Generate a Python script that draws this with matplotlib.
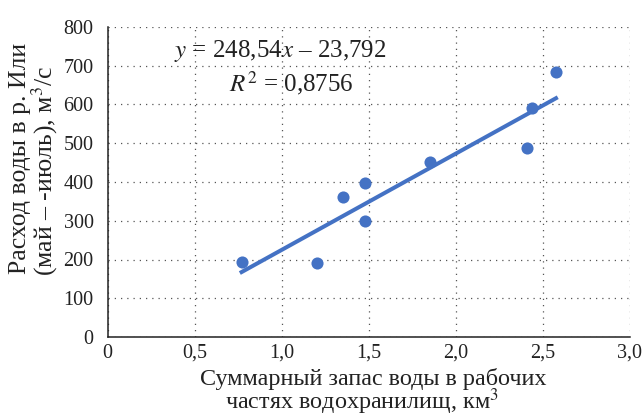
import numpy as np
import matplotlib
matplotlib.use("Agg")
import matplotlib.pyplot as plt

# storage (km3) vs Ili river discharge, May-July (m3/s)
storage = [0.77, 1.20, 1.35, 1.48, 1.48, 1.85, 2.41, 2.44, 2.575]
discharge = [194, 192, 361, 398, 299, 451, 488, 590, 685]

slope = 248.54
intercept = -23.792
r2_text = "0,8756"

xticks = [0, 0.5, 1.0, 1.5, 2.0, 2.5, 3.0]
xtick_labels = ["0", "0,5", "1,0", "1,5", "2,0", "2,5", "3,0"]
yticks = [0, 100, 200, 300, 400, 500, 600, 700, 800]

blue = "#4472C4"
ink = "#222222"
W, H = 643, 417

plt.rcParams['font.family'] = ['Liberation Serif', 'DejaVu Serif']
plt.rcParams['mathtext.fontset'] = 'stix'

fig = plt.figure(figsize=(W / 100, H / 100), dpi=100)
ax = fig.add_axes([107.5 / W, 1 - 337 / H, 522.5 / W, 310 / H])

ax.scatter(storage, discharge, s=76, color=blue, zorder=3, linewidths=0)

xs = np.array([min(storage), max(storage)])
ax.plot(xs, slope * xs + intercept, color=blue, lw=2.9, zorder=2)

ax.set_xlim(0, 3.0)
ax.set_ylim(0, 800)
ax.set_xticks(xticks)
ax.set_xticklabels(xtick_labels)
ax.set_yticks(yticks)
ax.tick_params(length=0, labelsize=14.5, colors=ink)
ax.tick_params(axis='y', pad=10)
ax.tick_params(axis='x', pad=5)

ax.grid(True, color='#555555', linestyle=(0, (1, 4)), lw=0.9)
ax.set_axisbelow(True)
for side in ['top', 'right']:
    ax.spines[side].set_visible(False)
for side in ['left', 'bottom']:
    ax.spines[side].set_linewidth(1.1)
    ax.spines[side].set_color(ink)

# regression equation
fig.text(280 / W, 1 - 57 / H, "$y$ = 248,54$x$ \u2013 23,792",
         fontsize=18, ha='center', va='baseline', color=ink)
fig.text(291 / W, 1 - 91 / H, "$R^2$ = " + r2_text,
         fontsize=18, ha='center', va='baseline', color=ink)

# axis titles
fig.text(373 / W, 1 - 385 / H, "Суммарный запас воды в рабочих",
         ha='center', va='baseline', fontsize=17.4, color=ink)
fig.text(362 / W, 1 - 409 / H, "частях водохранилищ, км$^3$",
         ha='center', va='baseline', fontsize=17.4, color=ink)
fig.text(26 / W, 1 - 158 / H, "Расход воды в р. Или",
         ha='center', va='baseline', rotation=90, rotation_mode='anchor',
         fontsize=18.5, color=ink)
fig.text(52 / W, 1 - 171 / H, "(май \u2013 -июль), м$^3$/с",
         ha='center', va='baseline', rotation=90, rotation_mode='anchor',
         fontsize=18.5, color=ink)

fig.savefig("out.png", dpi=100)
